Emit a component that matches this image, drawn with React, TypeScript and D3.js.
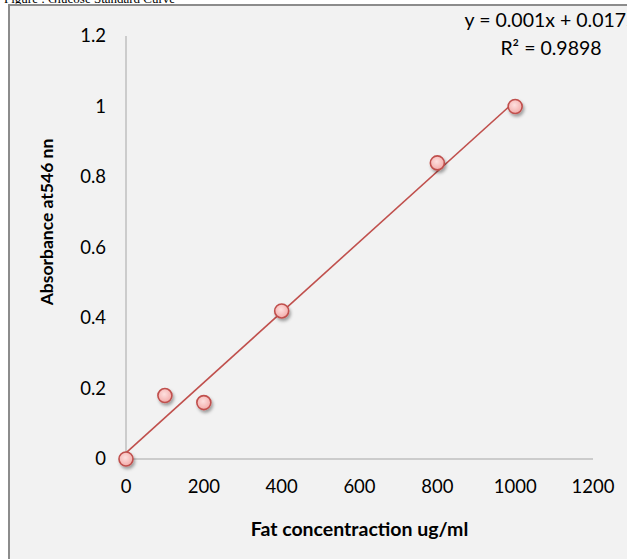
import * as d3 from "d3";

const concentrations = [0, 100, 200, 400, 800, 1000];
const absorbances = [0, 0.18, 0.16, 0.42, 0.84, 1.0];
const xTicks = [0, 200, 400, 600, 800, 1000, 1200];
const yTicks = [0, 0.2, 0.4, 0.6, 0.8, 1, 1.2];
const rSquaredLabel = "R² = 0.9898";
const figureTitle = "Figure : Glucose Standard Curve";
const xTitle = "Fat concentraction ug/ml";
const yTitle = "Absorbance at546 nn";

const W = 627;
const H = 559;
const plot = { left: 126, right: 593, top: 36, bottom: 459 };
const font = "Lato, 'Open Sans', sans-serif";
const red = "#c0504d";

export default function App() {
  const x = d3.scaleLinear().domain([0, 1200]).range([plot.left, plot.right]);
  const y = d3.scaleLinear().domain([0, 1.2]).range([plot.bottom, plot.top]);

  const points = concentrations.map((c, i) => ({ c, a: absorbances[i] }));

  // least squares fit, same as Excel's linear trendline
  const mx = d3.mean(concentrations)!;
  const my = d3.mean(absorbances)!;
  const sxy = d3.sum(points, (p) => (p.c - mx) * (p.a - my));
  const sxx = d3.sum(points, (p) => (p.c - mx) ** 2);
  const slope = sxy / sxx;
  const intercept = my - slope * mx;
  const [x0, x1] = d3.extent(concentrations) as [number, number];
  const fit = [x0, x1].map((c) => ({ c, a: slope * c + intercept }));
  const fitLine = d3
    .line<{ c: number; a: number }>()
    .x((d) => x(d.c))
    .y((d) => y(d.a));
  const eqLabel = `y = ${slope.toFixed(3)}x + ${intercept.toFixed(4)}`;

  return (
    <svg
      width={W}
      height={H}
      style={{ position: "absolute", left: 0, top: 0, display: "block", background: "#fff" }}
    >
      <defs>
        <radialGradient id="dot" cx="45%" cy="40%" r="65%">
          <stop offset="0%" stopColor="#fde0df" />
          <stop offset="100%" stopColor="#f2a7a5" />
        </radialGradient>
        <filter id="shadow" x="-50%" y="-50%" width="200%" height="200%">
          <feDropShadow dx="1.5" dy="2.5" stdDeviation="1.8" floodColor="#000" floodOpacity="0.35" />
        </filter>
      </defs>

      <text x={4} y={3} fontFamily="'Liberation Serif', serif" fontSize={13} fill="#000">
        {figureTitle}
      </text>

      <rect x={9} y={5} width={W} height={H} fill="#f2f2f2" stroke="#8c8c8c" strokeWidth={2} />

      {/* axes */}
      <line x1={plot.left} x2={plot.left} y1={y(1.2)} y2={y(0)} stroke="#bfbfbf" strokeWidth={1.5} />
      <line x1={x(0)} x2={x(1200)} y1={y(0)} y2={y(0)} stroke="#bfbfbf" strokeWidth={1.5} />

      {yTicks.map((t) => (
        <text
          key={`y${t}`}
          x={plot.left - 20}
          y={y(t)}
          dy="0.35em"
          textAnchor="end"
          fontFamily={font}
          fontSize={18.5}
          fill="#000"
        >
          {d3.format("~g")(t)}
        </text>
      ))}
      {xTicks.map((t) => (
        <text
          key={`x${t}`}
          x={x(t)}
          y={487}
          dy="0.35em"
          textAnchor="middle"
          fontFamily={font}
          fontSize={18.5}
          fill="#000"
        >
          {t}
        </text>
      ))}

      <text
        x={(plot.left + plot.right) / 2}
        y={529}
        dy="0.35em"
        textAnchor="middle"
        fontFamily={font}
        fontWeight="bold"
        fontSize={19.5}
        fill="#000"
      >
        {xTitle}
      </text>
      <text
        transform={`translate(47,222) rotate(-90)`}
        dy="0.35em"
        textAnchor="middle"
        fontFamily={font}
        fontWeight="bold"
        fontSize={17.5}
        fill="#000"
      >
        {yTitle}
      </text>

      <path d={fitLine(fit) ?? ""} fill="none" stroke={red} strokeWidth={1.6} />

      {points.map((p) => (
        <circle
          key={p.c}
          cx={x(p.c)}
          cy={y(p.a)}
          r={7}
          fill="url(#dot)"
          stroke={red}
          strokeWidth={1.6}
          filter="url(#shadow)"
        />
      ))}

      <text x={551} y={20} dy="0.35em" textAnchor="middle" fontFamily={font} fontSize={19.5} fill="#000">
        {eqLabel}
      </text>
      <text x={551} y={48} dy="0.35em" textAnchor="middle" fontFamily={font} fontSize={19.5} fill="#000">
        {rSquaredLabel}
      </text>
    </svg>
  );
}
